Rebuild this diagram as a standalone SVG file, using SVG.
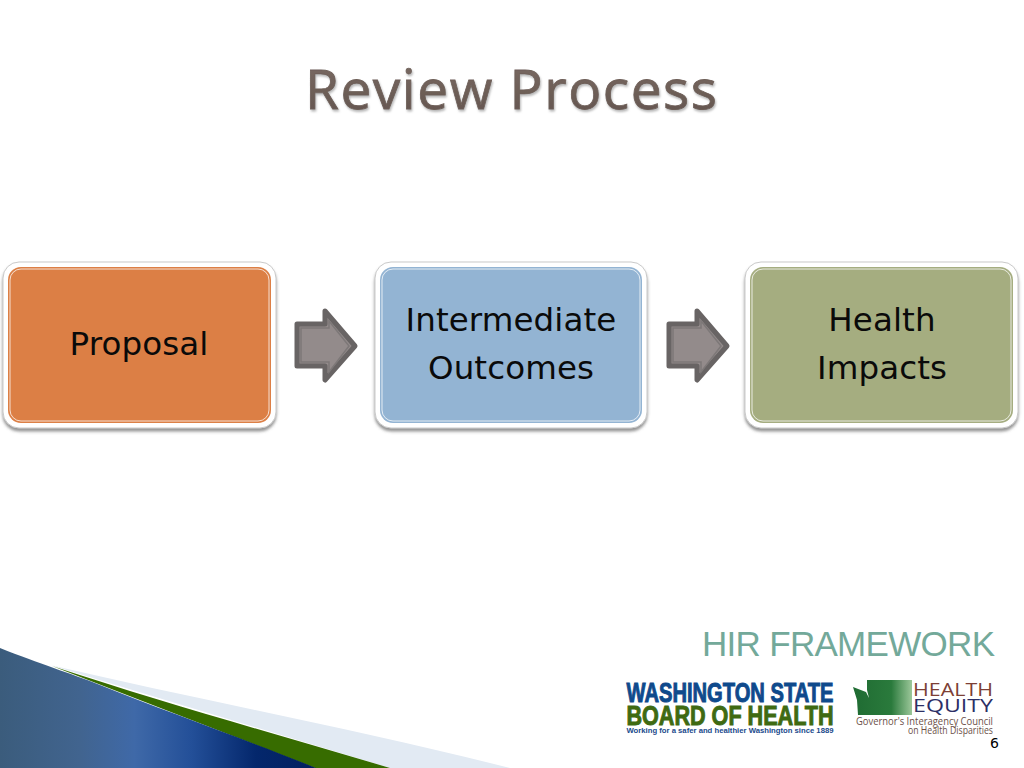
<svg xmlns="http://www.w3.org/2000/svg" width="1024" height="768" viewBox="0 0 1024 768">
<style>
.frame{fill:#fff;stroke:#c9c9c9;stroke-width:1;filter:url(#sh)}
.inner{stroke:#fff;stroke-opacity:.75;stroke-width:1}
.label{font-family:"DejaVu Sans",sans-serif;font-size:32.500px;letter-spacing:.1px;fill:#0a0a0a;text-anchor:middle}
.arrow{fill:#938b8b;stroke:#686464;stroke-width:5;stroke-linejoin:round}
.arrow2{fill:none;stroke:#7d7878;stroke-width:1.5}
.sa{font-family:"Liberation Sans",sans-serif;font-weight:bold}
.ge{font-family:"Open Sans",sans-serif}
</style>
<defs>
<filter id="sh" x="-5%" y="-5%" width="110%" height="115%"><feDropShadow dx="0" dy="3" stdDeviation="1.500" flood-color="#666" flood-opacity=".7"/></filter>
<filter id="ts" x="-5%" y="-10%" width="110%" height="130%"><feDropShadow dx="1" dy="2" stdDeviation="1" flood-color="#999" flood-opacity=".7"/></filter>
<linearGradient id="bl" gradientUnits="userSpaceOnUse" x1="0" y1="0" x2="320" y2="0"><stop offset="0" stop-color="#3b5c7c"/><stop offset=".25" stop-color="#41648f"/><stop offset=".42" stop-color="#3f69a8"/><stop offset=".6" stop-color="#234f98"/><stop offset=".8" stop-color="#04276c"/><stop offset="1" stop-color="#021f5e"/></linearGradient>
<linearGradient id="wa" x1="0" y1="0" x2="1" y2="0"><stop offset="0" stop-color="#1f6b32"/><stop offset=".65" stop-color="#2a7a3c"/><stop offset="1" stop-color="#9cc79a"/></linearGradient>
<linearGradient id="tf" x1="0" y1="0" x2="0" y2="1"><stop offset="0" stop-color="#7d6e66"/><stop offset=".6" stop-color="#6c5d56"/><stop offset="1" stop-color="#5f524c"/></linearGradient>
</defs>
<rect width="1024" height="768" fill="#fff"/>
<g id="swoosh">
<path d="M50 665C200 700 360 730 510 768H390Z" fill="#e2eaf3"/>
<path d="M52 666C170 705 280 735 390 768H315Z" fill="#376c00"/>
<path d="M0 648C40 664 70 673 100 685C170 713 250 741 316 768H0Z" fill="url(#bl)"/>
</g>
<text id="title" x="511" y="109" font-family="'Open Sans',sans-serif" font-size="55" font-weight="500" fill="url(#tf)" stroke="#6e5f58" stroke-width=".8" text-anchor="middle" textLength="412" filter="url(#ts)">Review Process</text>
<g id="connectors">
<g id="arrow1"><path class="arrow" d="M297 324H325V311L355 346L325 380V366H297Z"/><path class="arrow2" d="M301 328H329V321L349 346L329 372V362H301Z"/></g>
<g id="arrow2"><path class="arrow" d="M669 324H697V311L727 346L697 380V366H669Z"/><path class="arrow2" d="M673 328H701V321L721 346L701 372V362H673Z"/></g>
</g>
<g id="node-proposal">
<rect class="frame" x="3" y="262" width="273" height="166" rx="16"/>
<rect x="8" y="267" width="263" height="156" rx="13" fill="#dc7f45"/>
<rect class="inner" x="10" y="269" width="259" height="152" rx="11" fill="none"/>
<text class="label" x="139" y="355">Proposal</text>
</g>
<g id="node-outcomes">
<rect class="frame" x="375" y="262" width="272" height="166" rx="16"/>
<rect x="380" y="267" width="262" height="156" rx="13" fill="#93b4d3"/>
<rect class="inner" x="382" y="269" width="258" height="152" rx="11" fill="none"/>
<text class="label" x="511" y="331">Intermediate</text>
<text class="label" x="511" y="379">Outcomes</text>
</g>
<g id="node-impacts">
<rect class="frame" x="745" y="262" width="273" height="166" rx="16"/>
<rect x="750" y="267" width="263" height="156" rx="13" fill="#a5ad80"/>
<rect class="inner" x="752" y="269" width="259" height="152" rx="11" fill="none"/>
<text class="label" x="882" y="331">Health</text>
<text class="label" x="882" y="379">Impacts</text>
</g>
<text id="framework" x="995" y="656" font-family="'Liberation Sans',sans-serif" font-size="35" fill="#73a99a" text-anchor="end" textLength="293">HIR FRAMEWORK</text>
<g id="logo-wsboh">
<text class="sa" x="626.500" y="702" font-size="27.500" fill="#0f4a8c" stroke="#0f4a8c" stroke-width="1" textLength="207" lengthAdjust="spacingAndGlyphs">WASHINGTON STATE</text>
<text class="sa" x="626.500" y="724.500" font-size="27.500" fill="#3f6a12" stroke="#3f6a12" stroke-width="1" textLength="207" lengthAdjust="spacingAndGlyphs">BOARD OF HEALTH</text>
<text class="sa" x="626.500" y="733" font-size="7" fill="#1a4a8c" textLength="207" lengthAdjust="spacingAndGlyphs">Working for a safer and healthier Washington since 1889</text>
</g>
<g id="logo-equity">
<path d="M867 680H912V715H858L857 700L853 687L866 692L869 698L867 690Z" fill="url(#wa)"/>
<text class="ge" x="913" y="696" font-size="19" fill="#7d3f35" textLength="80" lengthAdjust="spacingAndGlyphs">HEALTH</text>
<text class="ge" x="913" y="712" font-size="17.500" fill="#2c2f66" textLength="80" lengthAdjust="spacingAndGlyphs">EQUITY</text>
<text class="ge" x="856" y="724.500" font-size="11" fill="#6b5048" textLength="137" lengthAdjust="spacingAndGlyphs">Governor's Interagency Council</text>
<text class="ge" x="908" y="733.500" font-size="11" fill="#6b5048" textLength="85" lengthAdjust="spacingAndGlyphs">on Health Disparities</text>
</g>
<text id="page" x="999" y="748" font-family="'DejaVu Sans',sans-serif" font-size="14" fill="#000" text-anchor="end">6</text>
</svg>
